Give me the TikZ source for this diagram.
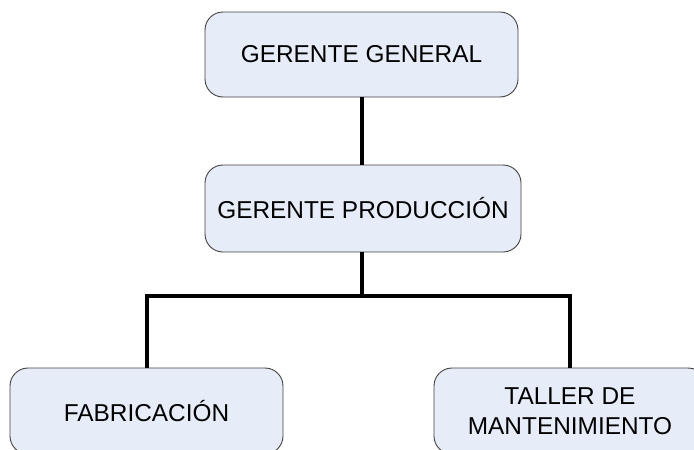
\documentclass[tikz,border=0pt]{standalone}
\usepackage{fontspec}
\setmainfont{Liberation Sans}
\definecolor{boxfill}{RGB}{231,237,248}
\definecolor{boxline}{RGB}{64,64,64}
\begin{document}
\begin{tikzpicture}[x=1pt,y=-1pt,
  orgbox/.style={draw=boxline,line width=0.9pt,fill=boxfill,rounded corners=18pt,
    align=center,inner sep=0pt,font=\fontsize{24.4}{30}\selectfont},
  link/.style={line width=4pt,black,line join=miter}]
\useasboundingbox (0,0) rectangle (694,450);
\clip (0,0) rectangle (694,450);
\node[orgbox,minimum width=313pt,minimum height=85pt] (top) at (361.5,54.5) {GERENTE GENERAL};
\node[orgbox,minimum width=316pt,minimum height=87pt] (mid) at (363,208.5) {GERENTE PRODUCCIÓN};
\node[orgbox,minimum width=273pt,minimum height=86pt] (left) at (146.5,411) {FABRICACIÓN};
\node[orgbox,minimum width=272pt,minimum height=86pt] (right) at (570,411) {TALLER DE\\MANTENIMIENTO};
\coordinate (j) at (362,296);
\draw[link] (top.south) -- (top.south |- mid.north);
\draw[link] (mid.south -| j) -- (j);
\draw[link] (left.north) |- (j) -| (right.north);
\end{tikzpicture}
\end{document}
